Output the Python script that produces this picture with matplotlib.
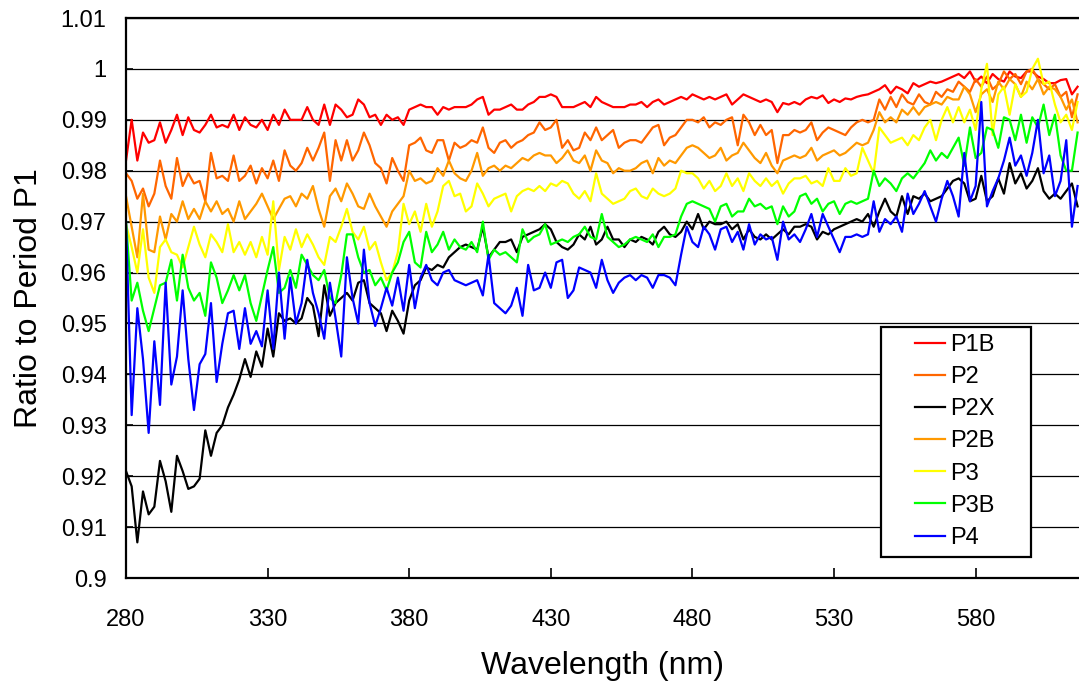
import numpy as np
import matplotlib
matplotlib.use("Agg")
import matplotlib.pyplot as plt
from matplotlib.patches import Rectangle
from matplotlib.ticker import FuncFormatter

plt.rcParams["font.family"] = ["Liberation Sans", "DejaVu Sans"]

# Wavelength grid (nm), 2 nm steps from 280 to 616
wavelength = np.arange(280, 617, 2)

# Ratio to period P1, stored in percent (one row = 20 nm)
p1b = [
    98.2, 99.0, 98.2, 98.75, 98.55, 98.6, 98.95, 98.55, 98.8, 99.1,
    98.7, 99.05, 98.8, 98.75, 98.9, 99.1, 98.85, 98.9, 98.85, 99.1,
    98.8, 99.05, 98.9, 98.85, 99.0, 98.8, 99.1, 98.9, 99.2, 99.0,
    99.0, 99.0, 99.25, 99.0, 98.9, 99.3, 98.9, 99.3, 99.2, 99.05,
    99.1, 99.4, 99.3, 99.05, 99.1, 98.9, 99.1, 99.0, 99.05, 98.9,
    99.2, 99.25, 99.3, 99.25, 99.25, 99.1, 99.25, 99.2, 99.25, 99.25,
    99.25, 99.3, 99.4, 99.45, 99.1, 99.2, 99.2, 99.25, 99.3, 99.2,
    99.2, 99.3, 99.35, 99.45, 99.45, 99.5, 99.45, 99.25, 99.25, 99.25,
    99.3, 99.35, 99.25, 99.45, 99.35, 99.3, 99.25, 99.25, 99.25, 99.3,
    99.3, 99.35, 99.25, 99.35, 99.4, 99.3, 99.35, 99.4, 99.45, 99.4,
    99.5, 99.45, 99.4, 99.45, 99.4, 99.45, 99.5, 99.3, 99.4, 99.5,
    99.45, 99.4, 99.35, 99.4, 99.35, 99.15, 99.33, 99.3, 99.35, 99.3,
    99.4, 99.45, 99.42, 99.48, 99.33, 99.4, 99.35, 99.42, 99.4, 99.45,
    99.48, 99.5, 99.55, 99.6, 99.68, 99.52, 99.65, 99.6, 99.52, 99.72,
    99.65, 99.7, 99.75, 99.72, 99.75, 99.8, 99.85, 99.9, 99.82, 99.95,
    99.75, 99.85, 99.72, 99.9, 99.8, 99.75, 99.95, 99.85, 99.82, 99.95,
    99.95, 99.85, 99.8, 99.72, 99.72, 99.78, 99.8, 99.5, 99.65,
]

p2 = [
    97.95, 97.8, 97.45, 97.65, 97.3, 97.55, 98.2, 97.7, 97.45, 98.25,
    97.7, 97.95, 97.75, 97.8, 97.4, 98.35, 97.85, 97.9, 97.8, 98.3,
    97.8, 97.9, 98.1, 97.75, 98.05, 97.85, 98.2, 97.8, 98.4, 98.1,
    98.0, 98.15, 98.45, 98.2, 98.45, 98.75, 97.8, 98.6, 98.2, 98.6,
    98.2, 98.4, 98.75, 98.5, 98.15, 98.05, 97.75, 98.25, 98.0, 97.8,
    98.5, 98.55, 98.65, 98.4, 98.35, 98.6, 98.6, 98.2, 98.55, 98.45,
    98.5, 98.6, 98.55, 98.85, 98.45, 98.35, 98.55, 98.6, 98.45, 98.55,
    98.6, 98.7, 98.75, 98.95, 98.8, 98.85, 99.0, 98.45, 98.6, 98.4,
    98.45, 98.75, 98.6, 98.85, 98.6, 98.7, 98.8, 98.45, 98.55, 98.6,
    98.6, 98.55, 98.7, 98.85, 98.9, 98.5, 98.65, 98.7, 98.85, 99.0,
    99.0, 98.95, 99.05, 98.85, 98.95, 98.9, 99.0, 99.05, 98.5, 99.1,
    98.95, 98.7, 98.9, 98.7, 98.8, 98.15, 98.7, 98.7, 98.8, 98.75,
    98.8, 98.95, 98.6, 98.75, 98.85, 98.8, 98.75, 98.7, 98.85, 98.95,
    99.0, 98.95, 99.0, 99.4, 99.2, 99.45, 99.25, 99.5, 99.35, 99.3,
    99.5, 99.35, 99.3, 99.55, 99.45, 99.6, 99.55, 99.75, 99.65, 99.55,
    99.8, 99.65, 99.85, 99.6, 99.7, 99.95, 99.8, 99.9, 99.7, 99.95,
    100.0, 99.8, 99.7, 99.6, 99.7, 99.45, 99.55, 99.05, 99.5,
]

p2x = [
    92.1, 91.8, 90.7, 91.7, 91.25, 91.4, 92.3, 91.9, 91.3, 92.4,
    92.1, 91.75, 91.8, 91.95, 92.9, 92.4, 92.85, 93.0, 93.35, 93.6,
    93.9, 94.3, 93.95, 94.45, 94.15, 94.9, 94.35, 95.2, 95.05, 95.1,
    95.0, 95.1, 95.5, 95.35, 94.75, 95.75, 95.15, 95.4, 95.5, 95.6,
    95.45, 95.8, 95.85, 95.4, 95.3, 95.2, 94.85, 95.25, 95.05, 94.8,
    95.45, 95.75, 95.85, 96.1, 96.05, 96.15, 96.1, 96.3, 96.4, 96.5,
    96.55, 96.5, 96.45, 96.9, 96.3, 96.45, 96.6, 96.6, 96.65, 96.4,
    96.7, 96.75, 96.8, 96.85, 96.95, 96.85, 96.6, 96.5, 96.45, 96.55,
    96.75, 96.65, 96.9, 96.55, 96.65, 96.9, 96.65, 96.65, 96.5, 96.65,
    96.6, 96.7, 96.65, 96.55, 96.8, 96.9, 96.75, 96.7, 96.8, 97.0,
    96.85, 97.15, 96.85, 97.0, 96.95, 96.95, 97.0, 96.85, 96.95, 96.65,
    96.85, 96.7, 96.65, 96.75, 96.65, 96.75, 96.85, 96.75, 96.9, 96.9,
    96.95, 96.9, 96.65, 96.8, 96.75, 96.85, 96.9, 96.95, 97.0, 97.05,
    97.0, 97.15, 96.9, 97.2, 97.45, 97.2, 97.1, 97.5, 97.15, 97.5,
    97.45, 97.55, 97.4, 97.45, 97.5, 97.65, 97.8, 97.85, 97.75, 97.4,
    97.45, 97.9, 97.4, 97.5, 97.85, 97.55, 98.15, 97.75, 97.95, 97.65,
    97.8, 98.05, 97.6, 97.45, 97.55, 97.45, 97.6, 97.75, 97.3,
]

p2b = [
    97.5, 96.9, 96.3, 97.55, 96.45, 96.4, 97.1, 96.65, 97.15, 97.0,
    97.4, 97.05, 97.25, 97.05, 97.4, 97.2, 97.4, 97.15, 97.25, 97.0,
    97.4, 97.05, 97.2, 97.35, 97.55, 97.3, 97.05, 97.25, 97.45, 97.5,
    97.3, 97.55, 97.45, 97.7, 97.25, 96.9, 97.5, 97.65, 97.4, 97.75,
    97.55, 97.3, 97.25, 97.55, 97.3, 97.1, 96.9, 97.2, 97.35, 97.5,
    98.0, 97.8, 97.85, 97.75, 97.8, 98.05, 97.9, 98.2, 97.95, 97.85,
    97.8, 98.0, 98.35, 97.9, 98.05, 98.1, 98.0, 98.1, 98.05, 98.15,
    98.25, 98.2, 98.3, 98.35, 98.3, 98.3, 98.15, 98.25, 98.4, 98.2,
    98.15, 98.3, 98.0, 98.4, 98.2, 98.15, 97.95, 98.05, 98.0, 98.0,
    98.05, 98.15, 98.2, 97.95, 98.25, 98.1, 98.2, 98.15, 98.3, 98.45,
    98.5, 98.45, 98.35, 98.25, 98.3, 98.45, 98.2, 98.3, 98.35, 98.55,
    98.4, 98.25, 98.15, 98.35, 98.1, 97.95, 98.2, 98.25, 98.3, 98.25,
    98.3, 98.45, 98.2, 98.3, 98.35, 98.4, 98.3, 98.35, 98.45, 98.55,
    98.5, 98.55, 98.8, 99.15, 98.95, 99.05, 98.95, 99.2, 99.1, 99.25,
    99.1, 99.25, 99.3, 99.35, 99.3, 99.45, 99.4, 99.4, 99.65, 99.5,
    99.15, 99.5, 99.6, 99.35, 99.75, 99.6, 99.8, 99.7, 99.45, 99.75,
    99.6, 99.8, 99.5, 99.65, 99.6, 99.45, 99.2, 99.4, 98.95,
]

p3 = [
    96.95, 96.5, 96.0, 96.85, 95.9, 95.6, 96.5, 96.65, 96.4, 96.35,
    96.1, 96.5, 96.9, 96.55, 96.3, 96.75, 96.6, 96.4, 96.95, 96.4,
    96.6, 96.35, 96.6, 96.3, 96.7, 96.35, 97.4, 96.05, 96.7, 96.45,
    96.85, 96.5, 96.75, 96.55, 96.3, 96.15, 96.7, 96.6, 96.9, 97.25,
    96.8, 96.65, 96.9, 96.45, 96.6, 96.2, 95.85, 96.0, 96.4, 97.35,
    96.95, 97.2, 96.8, 97.35, 96.9, 97.2, 97.7, 97.8, 97.5, 97.55,
    97.2, 97.3, 97.75, 97.55, 97.3, 97.45, 97.5, 97.55, 97.2, 97.5,
    97.6, 97.65, 97.6, 97.7, 97.6, 97.75, 97.7, 97.8, 97.75, 97.55,
    97.45, 97.6, 97.4, 97.95, 97.55, 97.45, 97.35, 97.4, 97.45, 97.6,
    97.65, 97.5, 97.45, 97.65, 97.55, 97.5, 97.55, 97.65, 98.0, 97.95,
    97.95, 97.85, 97.65, 97.8, 97.6, 97.7, 97.95, 97.7, 97.85, 97.6,
    97.95, 97.8, 97.7, 97.85, 97.7, 97.8, 97.55, 97.75, 97.85, 97.85,
    97.9, 97.75, 97.8, 97.7, 98.05, 97.8, 97.8, 98.05, 97.9, 97.95,
    98.45, 98.2, 97.95, 98.85, 98.7, 98.55, 98.6, 98.65, 98.5, 98.7,
    98.6, 98.85, 99.0, 98.6, 99.0, 99.25, 98.95, 99.25, 98.95, 99.2,
    98.8, 99.6, 100.1, 98.7, 99.5, 99.65, 99.1, 99.7, 99.45, 99.55,
    100.0, 100.2, 99.7, 99.75, 99.3, 98.95, 99.1, 98.8, 99.35,
]

p3b = [
    97.0, 95.45, 95.8, 95.25, 94.85, 95.3, 95.75, 95.8, 96.25, 95.45,
    96.35, 95.7, 95.45, 95.6, 95.15, 96.2, 95.9, 95.4, 95.65, 95.95,
    95.65, 95.95, 95.4, 95.05, 95.55, 96.05, 96.5, 95.6, 95.7, 96.05,
    95.7, 96.35, 96.15, 95.95, 95.85, 96.05, 95.5, 95.4, 95.95, 96.75,
    96.75, 96.3, 96.0, 96.05, 95.75, 95.9, 95.65, 96.0, 96.2, 96.6,
    96.8, 96.2, 96.1, 96.8, 96.4, 96.55, 96.8, 96.45, 96.65, 96.5,
    96.45, 96.6, 96.4, 97.0, 96.25, 96.45, 96.35, 96.4, 96.3, 96.2,
    96.85, 96.6, 96.7, 96.75, 96.95, 96.55, 96.6, 96.65, 96.6, 96.7,
    96.75, 96.9, 96.7, 96.65, 97.15, 96.7, 96.6, 96.5, 96.55, 96.65,
    96.7, 96.65, 96.6, 96.75, 96.5, 96.7, 96.7, 96.75, 97.1, 97.35,
    97.4, 97.35, 97.3, 97.25, 97.0, 97.3, 97.35, 97.1, 97.2, 97.2,
    97.45, 97.3, 97.35, 97.25, 97.3, 96.95, 97.3, 97.1, 97.2, 97.5,
    97.55, 97.35, 97.45, 97.2, 97.35, 97.4, 97.15, 97.35, 97.4, 97.35,
    97.4, 97.45, 98.0, 97.7, 97.85, 97.75, 97.6, 97.85, 97.95, 97.85,
    98.0, 98.15, 98.4, 98.2, 98.35, 98.25, 98.45, 98.65, 98.1, 98.85,
    98.25, 98.35, 98.85, 98.8, 98.45, 99.05, 99.0, 98.6, 99.1, 98.55,
    99.05, 98.85, 99.3, 98.7, 99.1, 98.3, 98.0, 98.0, 98.75,
]

p4 = [
    97.0, 93.2, 95.3, 94.3, 92.85, 94.65, 93.4, 95.8, 93.8, 94.35,
    95.65, 94.3, 93.3, 94.2, 94.4, 95.4, 93.85, 94.6, 95.2, 95.25,
    94.5, 95.3, 94.6, 94.85, 94.55, 95.65, 94.5, 96.0, 94.7, 95.9,
    95.0, 95.4, 96.25, 95.6, 95.2, 94.7, 95.8, 95.1, 94.35, 96.3,
    95.5, 95.0, 96.45, 95.4, 94.95, 95.3, 95.7, 95.35, 95.9, 95.25,
    96.15, 95.3, 95.9, 96.15, 95.85, 95.75, 96.0, 96.05, 95.85, 95.8,
    95.75, 95.8, 95.85, 95.55, 96.35, 95.4, 95.3, 95.2, 95.35, 95.7,
    95.15, 96.15, 95.65, 95.7, 96.0, 95.7, 96.2, 96.25, 95.5, 95.65,
    96.1, 96.05, 96.0, 95.7, 96.25, 95.85, 95.6, 95.8, 95.9, 95.95,
    95.85, 95.95, 95.9, 95.7, 95.95, 95.95, 95.9, 95.75, 96.35, 96.9,
    96.6, 96.5, 96.9, 96.75, 96.45, 96.85, 96.9, 96.6, 96.8, 96.45,
    96.95, 96.55, 96.75, 96.65, 96.7, 96.25, 97.0, 96.65, 96.75, 96.6,
    96.85, 97.15, 96.7, 97.15, 96.9, 96.65, 96.4, 96.7, 96.7, 96.75,
    96.7, 96.75, 97.4, 96.8, 97.05, 96.95, 97.1, 96.8, 97.55, 97.15,
    97.35, 97.6, 97.3, 97.0, 97.45, 97.8, 97.5, 97.1, 98.35, 97.4,
    97.7, 99.35, 97.3, 97.6, 97.85, 98.2, 98.65, 98.1, 98.3, 97.9,
    98.35, 99.0, 97.95, 98.3, 97.5, 97.8, 98.6, 96.9, 97.7,
]

labels = ["P1B", "P2", "P2X", "P2B", "P3", "P3B", "P4"]
colors = ["#FF0000", "#FF6600", "#000000", "#FF9900", "#FFFF00", "#00FF00", "#0000FF"]
series = [p1b, p2, p2x, p2b, p3, p3b, p4]

fig = plt.figure(figsize=(10.79, 6.83), dpi=100)
W, H = 1079, 683
ax = fig.add_axes([126 / W, 1 - 578 / H, (W - 126) / W, (578 - 18) / H])

lines = []
for name, vals, col in zip(labels, series, colors):
    ratio = np.array(vals) / 100.0
    ln, = ax.plot(wavelength, ratio, color=col, lw=1.6, label=name)
    lines.append(ln)

ax.set_xlim(280, 616.5)
ax.set_ylim(0.9, 1.01)
ax.set_xticks(np.arange(280, 581, 50))
ax.set_yticks(np.round(np.arange(90, 102) / 100, 2))
ax.yaxis.set_major_formatter(FuncFormatter(lambda v, p: f"{v:g}"))

ax.yaxis.grid(True, color="black", lw=0.9)
ax.set_axisbelow(True)

for side in ("left", "bottom", "top"):
    ax.spines[side].set_linewidth(1.6)
    ax.spines[side].set_color("black")
ax.spines["right"].set_visible(False)

ax.tick_params(axis="x", direction="in", length=7, width=1.2, labelsize=17, pad=22)
ax.tick_params(axis="y", direction="in", length=5, width=1.2, labelsize=17, pad=14)

ax.set_xlabel("Wavelength (nm)", fontsize=23, labelpad=15)
ax.set_ylabel("Ratio to Period P1", fontsize=23, labelpad=12)

# legend box: white panel with black border, entries laid on top
box = Rectangle((881 / W, 1 - 557 / H), 150 / W, 230 / H, transform=fig.transFigure,
                facecolor="white", edgecolor="black", lw=1.6, zorder=9, clip_on=False)
ax.add_artist(box)
leg = ax.legend(lines, labels, loc="upper left", bbox_to_anchor=(915 / W, 1 - 334 / H),
                bbox_transform=fig.transFigure, frameon=False, fontsize=17,
                handlelength=1.25, handletextpad=0.25, labelspacing=0.43,
                borderpad=0, borderaxespad=0)
leg.set_zorder(10)

fig.savefig("out.png", dpi=100)
